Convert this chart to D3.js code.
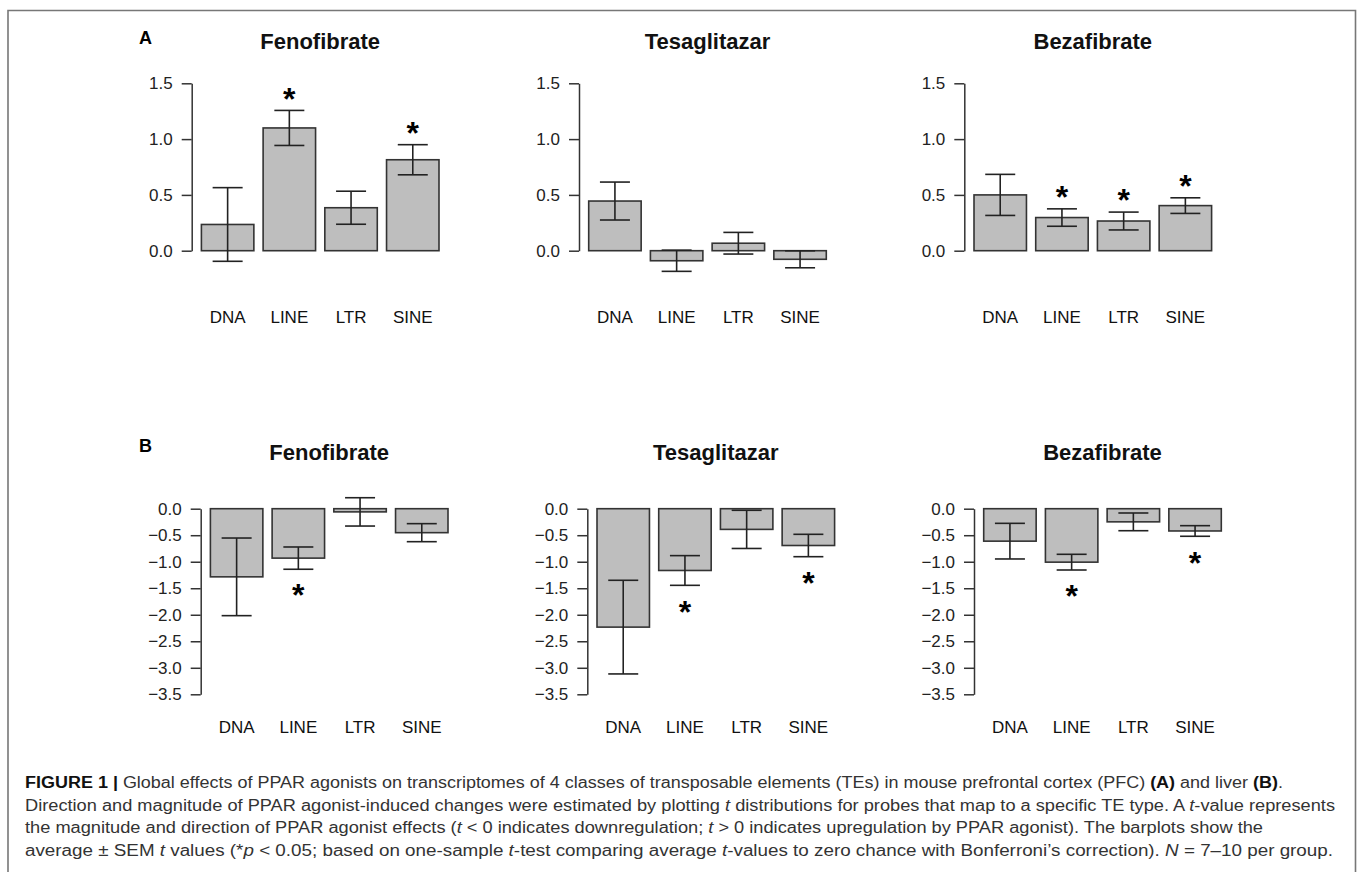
<!DOCTYPE html>
<html>
<head>
<meta charset="utf-8">
<script src="https://cdn.jsdelivr.net/npm/d3@7"></script>
<style>
  html, body { margin: 0; padding: 0; background: #fff; }
  svg { display: block; font-family: "Liberation Sans", Arial, Helvetica, sans-serif; }
</style>
</head>
<body>
<svg id="fig" width="1358" height="872"></svg>
<script>
// Categories and drugs
const teClasses = ["DNA", "LINE", "LTR", "SINE"];
const drugs = ["Fenofibrate", "Tesaglitazar", "Bezafibrate"];

// Panel A (PFC): mean t, SEM, significance
const pfcMean = [
  [0.235, 1.10, 0.385, 0.815],
  [0.445, -0.09, 0.067, -0.077],
  [0.50, 0.297, 0.266, 0.404]
];
const pfcSem = [
  [0.33, 0.157, 0.148, 0.135],
  [0.17, 0.095, 0.097, 0.076],
  [0.184, 0.078, 0.08, 0.07]
];
const pfcSig = [
  [0, 1, 0, 1],
  [0, 0, 0, 0],
  [0, 1, 1, 1]
];

// Panel B (liver)
const liverMean = [
  [-1.285, -0.932, -0.06, -0.452],
  [-2.233, -1.165, -0.39, -0.694],
  [-0.612, -1.008, -0.248, -0.42]
];
const liverSem = [
  [0.732, 0.21, 0.267, 0.17],
  [0.883, 0.28, 0.36, 0.211],
  [0.336, 0.148, 0.167, 0.1]
];
const liverSig = [
  [0, 1, 0, 0],
  [0, 1, 0, 1],
  [0, 1, 0, 1]
];

// Tick values
const pfcTicks = [0, 0.5, 1.0, 1.5];
const liverTicks = [0, -0.5, -1.0, -1.5, -2.0, -2.5, -3.0, -3.5];

const svg = d3.select("#fig");
const fmt = d3.format(".1f");

// Frame
svg.append("path")
  .attr("d", "M8,872 V10.5 H1355.5 V872")
  .attr("fill", "none")
  .attr("stroke", "#777")
  .attr("stroke-width", 1.6);

const rows = [
  {label: "A", mean: pfcMean, sem: pfcSem, sig: pfcSig, ticks: pfcTicks,
   domain: [0, 1.5], range: [250.7, 83.3], axisX: [191.7, 579, 964.3],
   titleY: 49, labelY: 43.5, catY: 323},
  {label: "B", mean: liverMean, sem: liverSem, sig: liverSig, ticks: liverTicks,
   domain: [0, -3.5], range: [508.7, 694.3], axisX: [200.7, 587.3, 974],
   titleY: 460, labelY: 451.5, catY: 733}
];

const starSize = 32;

rows.forEach(row => {
  const y = d3.scaleLinear().domain(row.domain).range(row.range);

  svg.append("text")
    .attr("x", 139)
    .attr("y", row.labelY)
    .attr("font-size", 18)
    .attr("font-weight", "bold")
    .text(row.label);

  drugs.forEach((drug, p) => {
    const ax = row.axisX[p];
    const x = d3.scaleBand()
      .domain(teClasses)
      .range([ax + 9.7, ax + 247.3])
      .paddingInner(0.15)
      .paddingOuter(0);

    const g = svg.append("g");

    // Title
    g.append("text")
      .attr("x", ax + 128.5)
      .attr("y", row.titleY)
      .attr("text-anchor", "middle")
      .attr("font-size", 22)
      .attr("font-weight", "bold")
      .attr("fill", "#111")
      .text(drug);

    // Y axis
    const yAxis = g.append("g")
      .attr("transform", `translate(${ax},0)`)
      .call(d3.axisLeft(y).tickValues(row.ticks).tickFormat(fmt)
        .tickSize(10).tickSizeOuter(0).tickPadding(9));
    yAxis.select(".domain").attr("stroke", "#333").attr("stroke-width", 1.5);
    yAxis.selectAll(".tick line").attr("stroke", "#333").attr("stroke-width", 1.5);
    yAxis.selectAll(".tick text")
      .attr("font-size", 17)
      .attr("fill", "#222")
      .attr("font-family", "Liberation Sans, Arial, sans-serif");

    const vals = teClasses.map((c, i) => ({
      cls: c,
      mean: row.mean[p][i],
      sem: row.sem[p][i],
      sig: row.sig[p][i]
    }));

    // Bars
    g.selectAll("rect.bar")
      .data(vals)
      .join("rect")
      .attr("class", "bar")
      .attr("x", d => x(d.cls))
      .attr("width", x.bandwidth())
      .attr("y", d => Math.min(y(0), y(d.mean)))
      .attr("height", d => Math.abs(y(d.mean) - y(0)))
      .attr("fill", "#bebebe")
      .attr("stroke", "#333")
      .attr("stroke-width", 1.6);

    // Error bars
    const cap = 15;
    const eb = g.selectAll("g.err")
      .data(vals)
      .join("g")
      .attr("class", "err")
      .attr("stroke", "#222")
      .attr("stroke-width", 1.6);
    eb.append("line")
      .attr("x1", d => x(d.cls) + x.bandwidth() / 2)
      .attr("x2", d => x(d.cls) + x.bandwidth() / 2)
      .attr("y1", d => y(d.mean + d.sem))
      .attr("y2", d => y(d.mean - d.sem));
    eb.append("line")
      .attr("x1", d => x(d.cls) + x.bandwidth() / 2 - cap)
      .attr("x2", d => x(d.cls) + x.bandwidth() / 2 + cap)
      .attr("y1", d => y(d.mean + d.sem))
      .attr("y2", d => y(d.mean + d.sem));
    eb.append("line")
      .attr("x1", d => x(d.cls) + x.bandwidth() / 2 - cap)
      .attr("x2", d => x(d.cls) + x.bandwidth() / 2 + cap)
      .attr("y1", d => y(d.mean - d.sem))
      .attr("y2", d => y(d.mean - d.sem));

    // Significance stars
    g.selectAll("text.star")
      .data(vals.filter(d => d.sig))
      .join("text")
      .attr("class", "star")
      .attr("x", d => x(d.cls) + x.bandwidth() / 2)
      .attr("y", d => {
        const c = d.mean >= 0 ? y(d.mean + d.sem) - 19 : y(d.mean - d.sem) + 19;
        return c + starSize * 0.57;
      })
      .attr("text-anchor", "middle")
      .attr("font-size", starSize)
      .attr("font-weight", "bold")
      .text("*");

    // Category labels
    g.selectAll("text.cat")
      .data(teClasses)
      .join("text")
      .attr("class", "cat")
      .attr("x", d => x(d) + x.bandwidth() / 2)
      .attr("y", row.catY)
      .attr("text-anchor", "middle")
      .attr("font-size", 17)
      .attr("fill", "#111")
      .text(d => d);
  });
});

// Caption
const captionLines = [
  [["FIGURE 1 | ", "b"], ["Global effects of PPAR agonists on transcriptomes of 4 classes of transposable elements (TEs) in mouse prefrontal cortex (PFC) ", ""], ["(A)", "b"], [" and liver ", ""], ["(B)", "b"], [".", ""]],
  [["Direction and magnitude of PPAR agonist-induced changes were estimated by plotting ", ""], ["t", "i"], [" distributions for probes that map to a specific TE type. A ", ""], ["t", "i"], ["-value represents", ""]],
  [["the magnitude and direction of PPAR agonist effects (", ""], ["t", "i"], [" < 0 indicates downregulation; ", ""], ["t", "i"], [" > 0 indicates upregulation by PPAR agonist). The barplots show the", ""]],
  [["average ± SEM ", ""], ["t", "i"], [" values (*", ""], ["p", "i"], [" < 0.05; based on one-sample ", ""], ["t", "i"], ["-test comparing average ", ""], ["t", "i"], ["-values to zero chance with Bonferroni’s correction). ", ""], ["N", "i"], [" = 7–10 per group.", ""]]
];
const captionEnds = [1283, 1335, 1263, 1333];
const captionY = [788, 810.5, 833, 855.5];

captionLines.forEach((parts, i) => {
  const t = svg.append("text")
    .attr("x", 25)
    .attr("y", captionY[i])
    .attr("font-size", 16)
    .attr("fill", "#333")
    .attr("textLength", captionEnds[i] - 25)
    .attr("lengthAdjust", "spacingAndGlyphs");
  parts.forEach(([s, st]) => {
    t.append("tspan")
      .attr("font-weight", st === "b" ? "bold" : null)
      .attr("font-style", st === "i" ? "italic" : null)
      .attr("fill", st === "b" ? "#111" : null)
      .text(s);
  });
});
</script>
</body>
</html>
